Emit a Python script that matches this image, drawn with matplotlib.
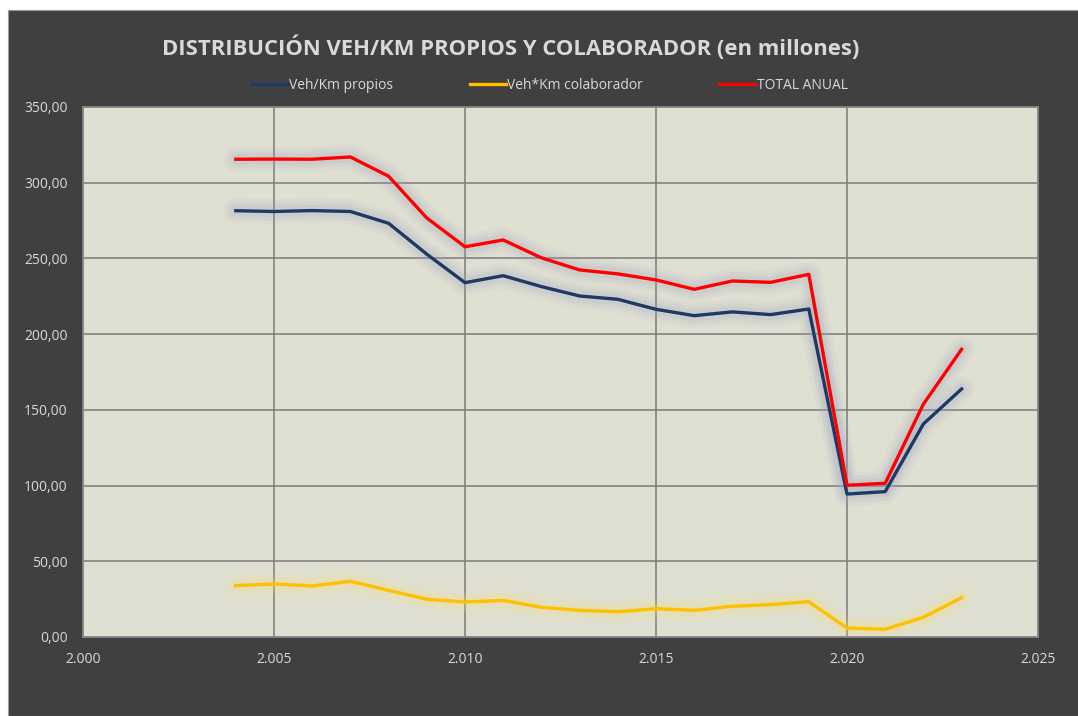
import matplotlib
matplotlib.use("Agg")
import matplotlib.pyplot as plt
from matplotlib.ticker import FuncFormatter, MultipleLocator
from matplotlib.patches import Rectangle

years = [2004, 2005, 2006, 2007, 2008, 2009, 2010, 2011, 2012, 2013,
         2014, 2015, 2016, 2017, 2018, 2019, 2020, 2021, 2022, 2023]
propios = [281.5, 281.0, 281.6, 281.0, 273.2, 252.8, 234.0, 238.6, 231.4, 225.2,
           223.0, 216.4, 212.2, 214.7, 212.9, 216.6, 94.4, 96.0, 140.7, 163.8]
colaborador = [33.9, 35.0, 33.7, 36.8, 30.8, 24.9, 23.1, 24.2, 19.6, 17.6,
               16.7, 18.7, 17.6, 20.3, 21.4, 23.3, 5.9, 5.1, 13.0, 26.0]
total = [315.5, 315.6, 315.5, 317.0, 304.3, 276.7, 257.7, 262.2, 250.4, 242.4,
         239.8, 235.8, 229.6, 235.1, 234.2, 239.5, 100.2, 101.5, 153.8, 190.0]

labels = ["Veh/Km propios", "Veh*Km colaborador", "TOTAL ANUAL"]
colors = ["#1F3864", "#FFC000", "#FF0000"]
glows = ["#9AA5C0", "#F5E27A", "#9AA5C0"]

txt = "#D9D9D9"
plt.rcParams['font.family'] = ['Open Sans', 'DejaVu Sans']

fig = plt.figure(figsize=(10.78, 7.16), dpi=100, facecolor="white")
fig.patches.append(Rectangle((8 / 1078, 0), 1, 706 / 716, transform=fig.transFigure,
                             facecolor="#404040", edgecolor="#9A9A9A", lw=0.8, zorder=-10))

ax = fig.add_axes([83 / 1078, 79 / 716, 955 / 1078, 530 / 716])
ax.set_facecolor("#DFDFD2")

handles = []
for ys, c, g, lab in zip([propios, colaborador, total], colors, glows, labels):
    # soft glow under each line
    for w, a in [(18, 0.07), (13, 0.10), (8, 0.15)]:
        ax.plot(years, ys, color=g, lw=w, alpha=a, solid_capstyle="round",
                solid_joinstyle="round", zorder=2)
    h, = ax.plot(years, ys, color=c, lw=2.4, label=lab, zorder=3)
    handles.append(h)

ax.set_xlim(2000, 2025)
ax.set_ylim(0, 350)
ax.xaxis.set_major_locator(MultipleLocator(5))
ax.yaxis.set_major_locator(MultipleLocator(50))
ax.xaxis.set_major_formatter(FuncFormatter(lambda v, p: f"{int(v) // 1000}.{int(v) % 1000:03d}"))
ax.yaxis.set_major_formatter(FuncFormatter(lambda v, p: f"{v:.2f}".replace(".", ",")))
ax.grid(True, color="#7A7A7A", lw=1.1)
ax.set_axisbelow(True)
ax.tick_params(length=0, colors=txt, labelsize=10, pad=11)
for s in ax.spines.values():
    s.set_color("#8C8C8C")
    s.set_linewidth(1.2)

fig.text(0.474, 0.933, "DISTRIBUCIÓN VEH/KM PROPIOS Y COLABORADOR (en millones)",
         ha="center", va="center", color=txt, fontsize=15.8, fontweight="bold")

leg = fig.legend(handles, labels, loc="center", bbox_to_anchor=(0.51, 0.881), ncol=3,
                 frameon=False, fontsize=10, handlelength=2.6, handletextpad=0.1,
                 columnspacing=5.5)
for t in leg.get_texts():
    t.set_color(txt)

fig.savefig("out.png", dpi=100, facecolor=fig.get_facecolor())
